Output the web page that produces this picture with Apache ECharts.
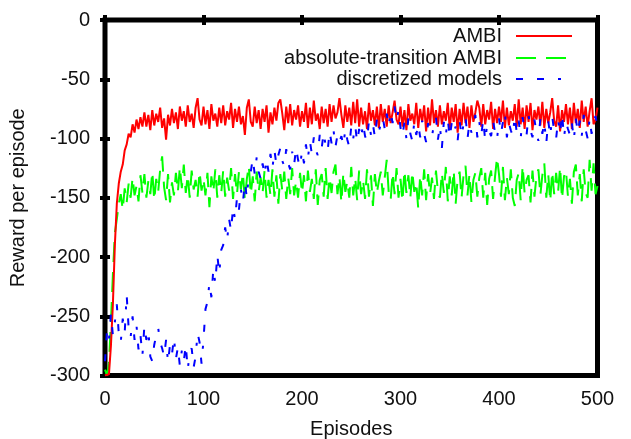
<!DOCTYPE html>
<html>
<head>
<meta charset="utf-8">
<script src="https://cdn.jsdelivr.net/npm/echarts@6/dist/echarts.min.js"></script>
<style>
html,body{margin:0;padding:0;background:#fff;}
#chart{width:631px;height:439px;}
</style>
</head>
<body>
<div id="chart"></div>
<script>
// Episodes sampled every 2 (0..500)
const STEP = 2;
const xTicks = [0, 100, 200, 300, 400, 500];
const yTicks = [0, -50, -100, -150, -200, -250, -300];
const seriesNames = ['AMBI', 'absolute-transition AMBI', 'discretized models'];

const ambi = [
-300,-300,-299,-275,-240,-190,-155,-138,-128,-122,
-110,-105,-96,-99,-88,-95,-84,-92,-82,-90,
-78,-90,-80,-93,-76,-89,-79,-86,-74,-91,
-83,-101,-80,-89,-75,-87,-78,-92,-73,-85,
-77,-90,-72,-86,-79,-91,-74,-66,-84,-89,
-73,-88,-76,-92,-71,-85,-79,-90,-74,-87,
-72,-89,-77,-84,-70,-91,-75,-86,-73,-88,
-81,-97,-74,-67,-86,-90,-73,-87,-76,-92,
-75,-86,-72,-95,-78,-88,-74,-85,-70,-67,
-79,-93,-73,-87,-71,-89,-76,-84,-72,-90,
-77,-86,-70,-91,-74,-88,-68,-85,-79,-92,
-73,-87,-75,-90,-71,-86,-72,-83,-78,-66,
-80,-91,-72,-86,-74,-89,-69,-87,-67,-90,
-74,-88,-77,-92,-70,-85,-76,-89,-73,-91,
-71,-86,-75,-90,-72,-87,-78,-68,-84,-88,
-73,-90,-76,-93,-71,-85,-79,-88,-70,-91,
-75,-86,-72,-94,-74,-89,-67,-87,-76,-90,
-72,-88,-77,-85,-70,-92,-74,-86,-71,-95,
-75,-89,-70,-87,-73,-91,-72,-86,-78,-68,
-74,-90,-71,-88,-76,-84,-69,-92,-75,-87,
-73,-86,-68,-91,-74,-89,-77,-85,-71,-90,
-67,-88,-74,-92,-72,-86,-70,-93,-76,-84,
-73,-89,-69,-91,-75,-87,-78,-66,-85,-90,
-72,-94,-76,-86,-71,-88,-74,-92,-70,-87,
-75,-91,-68,-86,-73,-90,-77,-66,-88,-84,
-74
];

const absAmbi = [
-295,-300,-290,-255,-215,-180,-168,-155,-147,-160,
-142,-154,-138,-150,-133,-148,-140,-153,-131,-146,
-130,-150,-136,-147,-128,-152,-134,-145,-126,-115,
-141,-152,-130,-154,-137,-148,-129,-145,-124,-142,
-122,-146,-131,-150,-127,-143,-135,-149,-128,-144,
-134,-148,-129,-158,-132,-145,-126,-150,-131,-146,
-127,-149,-133,-144,-125,-151,-130,-147,-128,-143,
-129,-152,-134,-123,-147,-132,-153,-128,-145,-133,
-146,-127,-150,-135,-148,-126,-149,-131,-155,-130,
-144,-128,-151,-133,-147,-125,-148,-136,-150,-129,
-146,-131,-153,-127,-145,-134,-151,-126,-156,-135,
-130,-149,-125,-151,-133,-146,-128,-122,-147,-132,
-154,-129,-145,-136,-150,-124,-148,-133,-152,-127,
-147,-135,-151,-126,-149,-131,-157,-130,-146,-136,
-128,-148,-133,-118,-145,-152,-129,-147,-125,-150,
-134,-153,-127,-146,-131,-150,-128,-145,-137,-159,
-131,-148,-126,-152,-130,-147,-133,-151,-127,-145,
-150,-129,-146,-124,-153,-132,-148,-127,-155,-134,
-128,-150,-131,-123,-148,-130,-154,-135,-129,-149,
-133,-125,-150,-129,-156,-134,-127,-151,-132,-116,
-130,-149,-124,-152,-133,-147,-126,-150,-157,-135,
-129,-152,-123,-146,-135,-131,-154,-127,-149,-132,
-126,-148,-131,-121,-150,-130,-153,-128,-147,-129,
-145,-124,-151,-132,-127,-149,-134,-155,-128,-122,
-148,-130,-153,-126,-146,-150,-118,-144,-121,-147,
-140
];

const discretized = [
-288,-262,-270,-248,-266,-255,-240,-265,-272,-252,
-264,-232,-260,-268,-250,-270,-258,-278,-266,-283,
-258,-270,-262,-284,-288,-274,-266,-260,-272,-277,
-284,-270,-289,-274,-282,-268,-286,-276,-292,-279,
-288,-274,-295,-281,-277,-293,-284,-264,-272,-290,
-270,-244,-238,-222,-234,-210,-222,-198,-214,-194,
-190,-175,-186,-168,-178,-158,-168,-150,-160,-143,
-154,-137,-150,-130,-128,-117,-130,-116,-128,-134,
-121,-131,-117,-128,-113,-125,-110,-122,-114,-108,
-119,-123,-109,-121,-126,-111,-122,-108,-118,-124,
-110,-121,-105,-117,-102,-113,-99,-110,-114,-97,
-108,-95,-106,-111,-94,-104,-93,-107,-97,-103,
-98,-106,-92,-101,-107,-90,-100,-89,-103,-92,
-100,-87,-98,-102,-85,-97,-88,-99,-84,-94,
-95,-82,-92,-79,-90,-77,-87,-73,-85,-76,
-91,-98,-86,-100,-83,-96,-102,-86,-97,-88,
-99,-85,-96,-103,-87,-94,-98,-88,-82,-101,
-89,-108,-86,-97,-84,-99,-87,-95,-90,-102,
-85,-98,-88,-81,-100,-87,-95,-90,-80,-99,
-86,-97,-84,-102,-88,-94,-98,-85,-95,-101,
-83,-96,-86,-78,-99,-87,-93,-98,-81,-95,
-85,-100,-82,-94,-97,-80,-93,-99,-84,-95,
-102,-83,-96,-86,-104,-85,-98,-81,-94,-100,
-84,-96,-79,-99,-86,-92,-97,-87,-101,-83,
-95,-85,-98,-80,-93,-100,-83,-96,-86,-81,-91
];

function pairs(vals) { return vals.map((v, i) => [i * STEP, v]); }

const FONT = "'Liberation Sans', Arial, sans-serif";
const chart = echarts.init(document.getElementById('chart'), null, {renderer: 'canvas'});

const tickStyle = {show: true, inside: true, length: 5, lineStyle: {color: '#000', width: 4}};
function legendAt(name, top) {
  return {
    data: [name], orient: 'vertical', right: 53, top: top,
    itemWidth: 56, itemHeight: 14, itemGap: 0,
    align: 'right',
    itemStyle: {opacity: 0},
    textStyle: {fontFamily: FONT, fontSize: 20, color: '#111', padding: [0, 9, 0, 0]},
    selectedMode: false
  };
}

chart.setOption({
  animation: false,
  backgroundColor: '#fff',
  grid: {left: 105, right: 33.5, top: 20, bottom: 63.5, containLabel: false, outerBoundsMode: 'none',
    show: true, borderColor: '#000', borderWidth: 5, backgroundColor: 'transparent'},
  legend: [
    legendAt(seriesNames[0], 21),
    legendAt(seriesNames[1], 43),
    legendAt(seriesNames[2], 64)
  ],
  xAxis: [{
    type: 'value', min: xTicks[0], max: xTicks[xTicks.length - 1], interval: 100,
    name: 'Episodes', nameLocation: 'middle', nameGap: 44,
    nameTextStyle: {fontFamily: FONT, fontSize: 20, color: '#111'},
    axisLine: {show: false}, splitLine: {show: false},
    axisTick: tickStyle,
    axisLabel: {fontFamily: FONT, fontSize: 20, color: '#111', margin: 14,
      formatter: v => xTicks.includes(v) ? String(v) : ''}
  }, {
    type: 'value', position: 'top', min: xTicks[0], max: xTicks[xTicks.length - 1], interval: 100,
    axisLine: {show: false}, splitLine: {show: false}, axisTick: tickStyle, axisLabel: {show: false}
  }],
  yAxis: [{
    type: 'value', min: yTicks[yTicks.length - 1], max: yTicks[0], interval: 50,
    name: 'Reward per episode', nameLocation: 'middle', nameGap: 77,
    nameTextStyle: {fontFamily: FONT, fontSize: 20, color: '#111'},
    axisLine: {show: false}, splitLine: {show: false},
    axisTick: tickStyle,
    axisLabel: {fontFamily: FONT, fontSize: 20, color: '#111', margin: 15,
      formatter: v => yTicks.includes(v) ? String(v) : ''}
  }, {
    type: 'value', position: 'right', min: yTicks[yTicks.length - 1], max: yTicks[0], interval: 50,
    axisLine: {show: false}, splitLine: {show: false}, axisTick: tickStyle, axisLabel: {show: false}
  }],
  series: [
    {name: seriesNames[0], type: 'line', data: pairs(ambi), symbol: 'none', showSymbol: false,
      lineStyle: {color: '#ff0000', width: 2}, itemStyle: {color: '#ff0000'}, z: 4},
    {name: seriesNames[1], type: 'line', data: pairs(absAmbi), symbol: 'none', showSymbol: false,
      lineStyle: {color: '#00ff00', width: 2, type: [20, 10]}, itemStyle: {color: '#00ff00'}, z: 3},
    {name: seriesNames[2], type: 'line', data: pairs(discretized), symbol: 'none', showSymbol: false,
      lineStyle: {color: '#0000ff', width: 2, type: [7, 14, 7, 14, 3, 14]}, itemStyle: {color: '#0000ff'}, z: 5}
  ]
});
</script>
</body>
</html>
